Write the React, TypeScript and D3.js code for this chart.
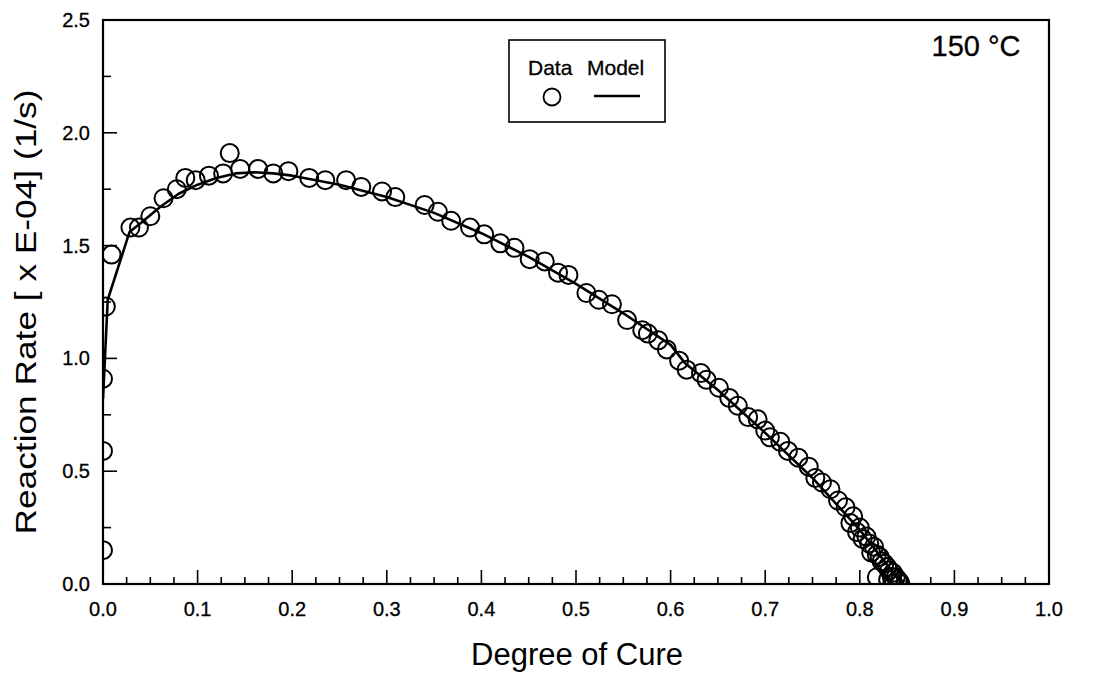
import React from "react";
import * as d3 from "d3";

const dataX = [0.0, 0.0, 0.0, 0.003, 0.009, 0.029, 0.038, 0.05, 0.064, 0.078, 0.087, 0.098, 0.112, 0.127, 0.134, 0.145, 0.164, 0.18, 0.196, 0.218, 0.235, 0.257, 0.273, 0.295, 0.309, 0.34, 0.354, 0.368, 0.388, 0.403, 0.42, 0.435, 0.451, 0.467, 0.481, 0.492, 0.511, 0.524, 0.538, 0.554, 0.57, 0.576, 0.587, 0.596, 0.609, 0.617, 0.632, 0.638, 0.651, 0.662, 0.671, 0.682, 0.692, 0.7, 0.705, 0.716, 0.724, 0.735, 0.746, 0.753, 0.76, 0.769, 0.777, 0.785, 0.79, 0.793, 0.797, 0.8, 0.803, 0.807, 0.81, 0.812, 0.815, 0.818, 0.821, 0.823, 0.826, 0.829, 0.831, 0.834, 0.835, 0.838, 0.84, 0.842, 0.843, 0.818, 0.83, 0.836];
const dataY = [0.15, 0.59, 0.91, 1.23, 1.46, 1.58, 1.58, 1.63, 1.71, 1.75, 1.8, 1.79, 1.81, 1.82, 1.91, 1.84, 1.84, 1.82, 1.83, 1.8, 1.79, 1.79, 1.76, 1.74, 1.715, 1.68, 1.65, 1.61, 1.58, 1.55, 1.51, 1.49, 1.44, 1.43, 1.38, 1.37, 1.29, 1.26, 1.24, 1.17, 1.125, 1.11, 1.08, 1.04, 0.99, 0.95, 0.935, 0.905, 0.87, 0.825, 0.79, 0.74, 0.73, 0.68, 0.65, 0.63, 0.59, 0.56, 0.52, 0.47, 0.45, 0.42, 0.37, 0.34, 0.27, 0.3, 0.23, 0.25, 0.2, 0.21, 0.18, 0.14, 0.165, 0.13, 0.12, 0.1, 0.09, 0.075, 0.06, 0.03, 0.05, 0.03, 0.02, 0.01, 0.0, 0.03, 0.02, 0.0];

const modelX = [0, 0.005, 0.028, 0.04, 0.06, 0.08, 0.1, 0.12, 0.14, 0.16, 0.18, 0.2, 0.25, 0.3, 0.35, 0.4, 0.45, 0.5, 0.55, 0.6, 0.615, 0.65, 0.7, 0.75, 0.8, 0.83, 0.845];
const modelY = [0.82, 1.26, 1.56, 1.6, 1.67, 1.73, 1.77, 1.8, 1.82, 1.825, 1.82, 1.81, 1.77, 1.715, 1.645, 1.555, 1.45, 1.33, 1.2, 1.06, 0.98, 0.86, 0.67, 0.47, 0.24, 0.08, 0.0];

const xMajor = [0, 0.1, 0.2, 0.3, 0.4, 0.5, 0.6, 0.7, 0.8, 0.9, 1.0];
const yMajor = [0, 0.5, 1.0, 1.5, 2.0, 2.5];

const W = 1095, H = 677;
const L = 103, R = 1049, T = 20, B = 584;

export default function App() {
  const x = d3.scaleLinear().domain([0, 1]).range([L, R]);
  const y = d3.scaleLinear().domain([0, 2.5]).range([B, T]);
  const xMinor = d3.range(0, 40).map((i) => i * 0.025).filter((v) => Math.abs(v * 10 - Math.round(v * 10)) > 1e-6);
  const yMinor = d3.range(0, 10).map((i) => i * 0.25 + 0.25).filter((v, i) => i % 2 === 0 && v < 2.5);
  const line = d3.line<number>().x((d, i) => x(modelX[i])).y((d, i) => y(modelY[i]));
  const font = "'Liberation Sans', Arial, Helvetica, sans-serif";
  return (
    <svg width={W} height={H} style={{ position: "absolute", left: 0, top: 0, background: "#fff" }} fontFamily={font}>
      <defs>
        <clipPath id="plot">
          <rect x={L} y={T} width={R - L} height={B - T} />
        </clipPath>
      </defs>
      <rect x={0} y={0} width={W} height={H} fill="#fff" />
      {xMajor.map((v) => (
        <line key={"xm" + v} x1={x(v)} x2={x(v)} y1={B} y2={B - 14} stroke="#000" strokeWidth={1.6} />
      ))}
      {xMinor.map((v) => (
        <line key={"xn" + v} x1={x(v)} x2={x(v)} y1={B} y2={B - 7} stroke="#000" strokeWidth={1.6} />
      ))}
      {yMajor.map((v) => (
        <line key={"ym" + v} x1={L} x2={L + 14} y1={y(v)} y2={y(v)} stroke="#000" strokeWidth={1.6} />
      ))}
      {yMinor.map((v) => (
        <line key={"yn" + v} x1={L} x2={L + 8} y1={y(v)} y2={y(v)} stroke="#000" strokeWidth={1.6} />
      ))}
      <rect x={L} y={T} width={R - L} height={B - T} fill="none" stroke="#000" strokeWidth={2.2} />
      <g stroke="#000" strokeWidth={0.3}>
        {xMajor.map((v) => (
          <text key={"xl" + v} x={x(v)} y={616} textAnchor="middle" fontSize={20}>
            {d3.format(".1f")(v)}
          </text>
        ))}
        {yMajor.map((v) => (
          <text key={"yl" + v} x={90} y={y(v)} dy="0.35em" textAnchor="end" fontSize={20}>
            {d3.format(".1f")(v)}
          </text>
        ))}
      </g>
      <g clipPath="url(#plot)">
        <path d={line(modelX) || ""} fill="none" stroke="#000" strokeWidth={2.6} strokeLinejoin="round" />
        {dataX.map((v, i) => (
          <circle key={"c" + i} cx={x(v)} cy={y(dataY[i])} r={9} fill="none" stroke="#000" strokeWidth={2} />
        ))}
      </g>
      <rect x={509} y={40} width={156} height={82} fill="#fff" stroke="#000" strokeWidth={1.6} />
      <g stroke="#000" strokeWidth={0.3}>
        <text x={528} y={75} fontSize={21}>Data</text>
        <text x={587} y={75} fontSize={21}>Model</text>
        <text x={976} y={56} textAnchor="middle" fontSize={29}>150 °C</text>
      </g>
      <circle cx={552} cy={97} r={8.5} fill="none" stroke="#000" strokeWidth={1.8} />
      <line x1={594} x2={640} y1={96} y2={96} stroke="#000" strokeWidth={2.6} />
      <text x={577} y={665} textAnchor="middle" fontSize={31}>Degree of Cure</text>
      <text
        transform={`translate(36, 312) rotate(-90)`}
        textAnchor="middle"
        fontSize={30}
        textLength={445}
        lengthAdjust="spacingAndGlyphs"
      >
        Reaction Rate [ x E-04] (1/s)
      </text>
    </svg>
  );
}
